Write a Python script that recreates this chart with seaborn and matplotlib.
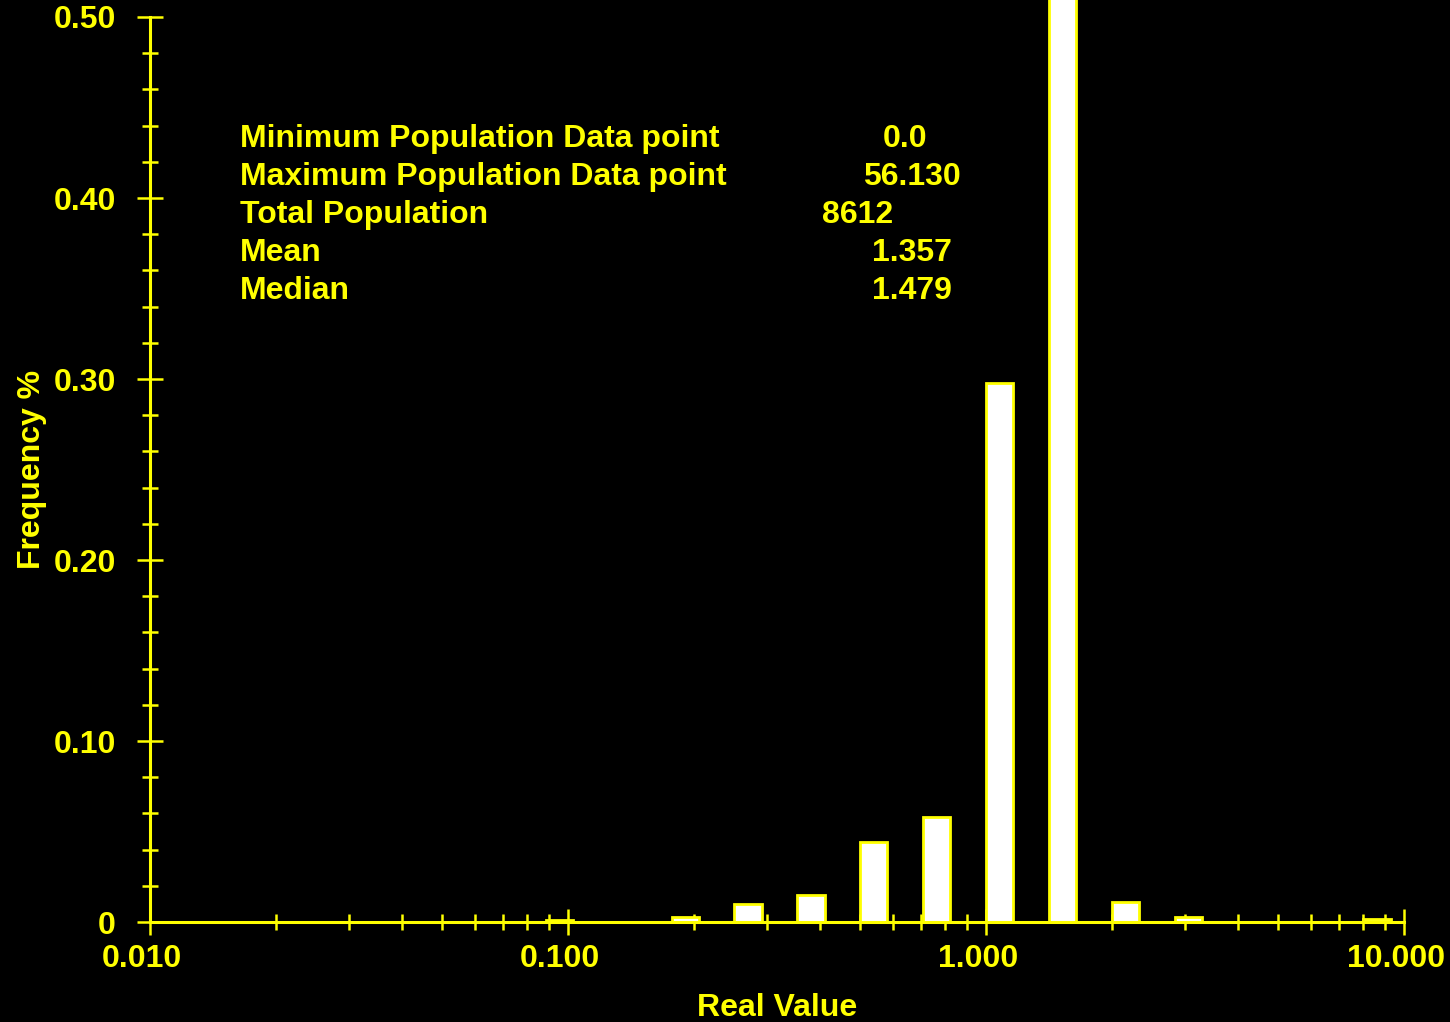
import matplotlib

matplotlib.use("Agg")

import matplotlib.pyplot as plt
import matplotlib.transforms as mtransforms
from matplotlib.ticker import FixedLocator, FixedFormatter, MultipleLocator, LogLocator, NullFormatter
import numpy as np
import seaborn as sns

# bin left edges (log spaced by sqrt(2)) and frequencies
bin_lefts = [0.0110, 0.0156, 0.0221, 0.03125, 0.0442, 0.0625, 0.0884, 0.125, 0.177, 0.25,
             0.354, 0.5, 0.707, 1.0, 1.414, 2.0, 2.83, 4.0, 5.66, 8.0]
frequencies = [0, 0, 0, 0, 0, 0, 0.001, 0, 0.003, 0.010,
               0.015, 0.044, 0.058, 0.298, 0.556, 0.011, 0.003, 0, 0, 0.0015]

x_ticks = [0.01, 0.1, 1.0, 10.0]
x_tick_labels = ["0.010", "0.100", "1.000", "10.000"]
y_ticks = [0.0, 0.1, 0.2, 0.3, 0.4, 0.5]
y_tick_labels = ["0", "0.10", "0.20", "0.30", "0.40", "0.50"]

stat_names = ["Minimum Population Data point", "Maximum Population Data point",
              "Total Population", "Mean", "Median"]
stat_values = ["0.0", "56.130", "8612", "1.357", "1.479"]

YELLOW = "#FFFF00"
BAR_SPAN = 0.065  # bar width in decades
FS = 23

sns.set_style("dark", {"axes.facecolor": "black", "figure.facecolor": "black"})
plt.rcParams["font.family"] = ["Liberation Sans", "DejaVu Sans"]
plt.rcParams["font.weight"] = "bold"

fig = plt.figure(figsize=(14.5, 10.22), dpi=100, facecolor="black")
ax = fig.add_axes([150 / 1450, 100 / 1022, 1254 / 1450, 905 / 1022])
ax.set_facecolor("black")

log_left = np.log10(bin_lefts)
edges = np.sort(np.concatenate([log_left, log_left + BAR_SPAN]))
centers = 10 ** (log_left + BAR_SPAN / 2)

sns.histplot(
    x=centers,
    weights=frequencies,
    bins=edges.tolist(),
    log_scale=True,
    stat="count",
    color="white",
    edgecolor=YELLOW,
    linewidth=2.0,
    alpha=1,
    clip_on=False,
    ax=ax,
)

ax.set_xlim(0.01, 10)
ax.set_ylim(0, 0.5)
ax.grid(False)

for side in ["top", "right"]:
    ax.spines[side].set_visible(False)
for side in ["left", "bottom"]:
    ax.spines[side].set_color(YELLOW)
    ax.spines[side].set_linewidth(2.2)

ax.xaxis.set_major_locator(FixedLocator(x_ticks))
ax.xaxis.set_major_formatter(FixedFormatter(x_tick_labels))
ax.xaxis.set_minor_locator(LogLocator(base=10, subs=np.arange(2, 10)))
ax.xaxis.set_minor_formatter(NullFormatter())
ax.yaxis.set_major_locator(FixedLocator(y_ticks))
ax.yaxis.set_major_formatter(FixedFormatter(y_tick_labels))
ax.yaxis.set_minor_locator(MultipleLocator(0.02))

ax.tick_params(which="both", bottom=True, left=True, direction="inout",
               colors=YELLOW, width=1.8, labelsize=FS, labelcolor=YELLOW)
ax.tick_params(which="major", length=19)
ax.tick_params(which="minor", length=11.5)
ax.tick_params(axis="y", which="major", pad=15)
ax.tick_params(axis="x", which="major", pad=6)

shift = mtransforms.ScaledTranslation(-0.08, 0, fig.dpi_scale_trans)
for lbl in ax.get_xticklabels():
    lbl.set_transform(lbl.get_transform() + shift)
    lbl.set_fontweight("bold")
for lbl in ax.get_yticklabels():
    lbl.set_fontweight("bold")

ax.set_xlabel("Real Value", color=YELLOW, fontsize=FS, fontweight="bold", va="top")
ax.set_ylabel("Frequency %", color=YELLOW, fontsize=FS, fontweight="bold")
ax.xaxis.set_label_coords(0.5, -0.078)
ax.yaxis.set_label_coords(-0.0825, 0.5)

# statistics block, positioned in figure pixels
name_x = 240
value_x = [883, 863, 822, 872, 872]
row_baseline = [147, 185, 223, 261, 299]
W, H = 1450, 1022
for name, val, vx, yb in zip(stat_names, stat_values, value_x, row_baseline):
    fig.text(name_x / W, 1 - yb / H, name, color=YELLOW, fontsize=FS,
             fontweight="bold", va="baseline", ha="left")
    fig.text(vx / W, 1 - yb / H, val, color=YELLOW, fontsize=FS,
             fontweight="bold", va="baseline", ha="left")

fig.savefig("out.png", dpi=100, facecolor="black")
